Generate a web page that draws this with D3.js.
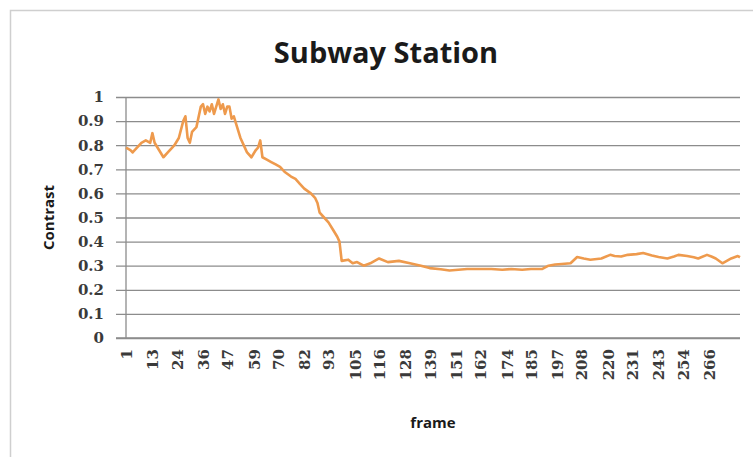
<!DOCTYPE html>
<html>
<head>
<meta charset="utf-8">
<script src="https://cdn.jsdelivr.net/npm/d3@7"></script>
<style>
  html, body { margin: 0; padding: 0; background: #fff; }
  svg { display: block; }
</style>
</head>
<body>
<svg id="chart" width="753" height="457"></svg>
<script>
// Contrast per frame for the subway station sequence
const frames = [
  1, 3, 4, 6, 8, 10, 12, 13, 14, 16, 18, 20, 22, 23, 25, 27, 28, 29, 30, 31,
  33, 35, 36, 37, 38, 39, 40, 41, 43, 44, 45, 46, 47, 48, 49, 50, 51, 53, 55, 56,
  58, 60, 61, 62, 63, 65, 67, 69, 71, 73, 76, 78, 80, 82, 85, 87, 88, 89, 91, 93,
  95, 97, 98, 99, 102, 104, 106, 109, 112, 116, 120, 125, 130, 135, 139, 144, 148, 152, 156, 162,
  167, 172, 176, 181, 185, 190, 193, 196, 199, 203, 206, 209, 212, 217, 221, 223, 226, 229, 233, 236,
  240, 243, 247, 250, 252, 256, 259, 261, 265, 267, 269, 272, 276, 279, 280
];
const contrast = [
  0.79, 0.78, 0.77, 0.79, 0.81, 0.82, 0.81, 0.85, 0.81, 0.78, 0.75, 0.77, 0.79, 0.80, 0.83, 0.90, 0.92, 0.83, 0.81, 0.855,
  0.875, 0.96, 0.97, 0.93, 0.96, 0.94, 0.97, 0.93, 0.99, 0.95, 0.97, 0.93, 0.96, 0.96, 0.91, 0.92, 0.89, 0.83, 0.79, 0.77,
  0.75, 0.78, 0.79, 0.82, 0.75, 0.74, 0.73, 0.72, 0.71, 0.69, 0.67, 0.66, 0.64, 0.62, 0.60, 0.58, 0.56, 0.52, 0.50, 0.48,
  0.45, 0.42, 0.40, 0.32, 0.325, 0.31, 0.315, 0.30, 0.31, 0.33, 0.315, 0.32, 0.31, 0.30, 0.29, 0.285, 0.28, 0.283, 0.286, 0.286,
  0.286, 0.283, 0.286, 0.283, 0.286, 0.286, 0.30, 0.305, 0.307, 0.31, 0.336, 0.33, 0.325, 0.33, 0.345, 0.34, 0.338, 0.345, 0.348, 0.353,
  0.342, 0.336, 0.33, 0.338, 0.345, 0.34, 0.335, 0.33, 0.345, 0.338, 0.33, 0.31, 0.33, 0.34, 0.335
];
const frameTicks = [1, 13, 24, 36, 47, 59, 70, 82, 93, 105, 116, 128, 139, 151, 162, 174, 185, 197, 208, 220, 231, 243, 254, 266];
const contrastTicks = [0, 0.1, 0.2, 0.3, 0.4, 0.5, 0.6, 0.7, 0.8, 0.9, 1];

const svg = d3.select("#chart");

const plot = { left: 126, right: 740, top: 97, bottom: 338 };

const x = d3.scaleLinear().domain([1, 280]).range([plot.left, plot.right]);
const y = d3.scaleLinear().domain([0, 1]).range([plot.bottom, plot.top]);

// chart frame
svg.append("rect")
  .attr("x", 10.5).attr("y", 10.5)
  .attr("width", 800).attr("height", 500)
  .attr("fill", "#fff")
  .attr("stroke", "#cfcfcf")
  .attr("stroke-width", 1.5);

// title
svg.append("text")
  .attr("x", 386).attr("y", 63)
  .attr("text-anchor", "middle")
  .attr("font-family", "'Open Sans', sans-serif")
  .attr("font-weight", 700)
  .attr("font-size", 29)
  .attr("fill", "#1a1a1a")
  .text("Subway Station");

// y axis with horizontal gridlines
const yAxis = d3.axisLeft(y)
  .tickValues(contrastTicks)
  .tickFormat(d3.format("~g"))
  .tickSize(0);

const gy = svg.append("g")
  .attr("transform", `translate(${plot.right},0)`)
  .call(yAxis);
gy.select(".domain").remove();
gy.selectAll(".tick line")
  .attr("x1", -(plot.right - plot.left) - 10)
  .attr("x2", 0)
  .attr("stroke", "#8c8c8c")
  .attr("stroke-width", 1.3);
gy.selectAll(".tick text")
  .attr("x", -(plot.right - plot.left) - 22)
  .attr("font-family", "'DejaVu Serif', serif")
  .attr("font-weight", 700)
  .attr("font-size", 15)
  .attr("fill", "#3a3a3a");

// vertical axis line
svg.append("line")
  .attr("x1", plot.left).attr("x2", plot.left)
  .attr("y1", plot.top).attr("y2", plot.bottom)
  .attr("stroke", "#8c8c8c")
  .attr("stroke-width", 1.3);

// x axis (category labels, rotated)
const xAxis = d3.axisBottom(x)
  .tickValues(frameTicks)
  .tickFormat(d3.format("d"))
  .tickSize(0);

const gx = svg.append("g")
  .attr("transform", `translate(0,${plot.bottom})`)
  .call(xAxis);
gx.select(".domain")
  .attr("stroke", "#8c8c8c")
  .attr("stroke-width", 1.3)
  .attr("d", `M${plot.left - 10},0H${plot.right}`);
gx.selectAll(".tick text")
  .attr("transform", "rotate(-90)")
  .attr("text-anchor", "end")
  .attr("x", -11)
  .attr("y", 0)
  .attr("dy", "0.36em")
  .attr("font-family", "'DejaVu Serif', serif")
  .attr("font-weight", 700)
  .attr("font-size", 15)
  .attr("fill", "#3a3a3a");

// axis titles
svg.append("text")
  .attr("transform", `translate(54,${(plot.top + plot.bottom) / 2}) rotate(-90)`)
  .attr("text-anchor", "middle")
  .attr("font-family", "'Open Sans', sans-serif")
  .attr("font-weight", 700)
  .attr("font-size", 15)
  .attr("fill", "#1a1a1a")
  .text("Contrast");

svg.append("text")
  .attr("x", (plot.left + plot.right) / 2)
  .attr("y", 428)
  .attr("text-anchor", "middle")
  .attr("font-family", "'Open Sans', sans-serif")
  .attr("font-weight", 700)
  .attr("font-size", 15)
  .attr("fill", "#1a1a1a")
  .text("frame");

// contrast line
const line = d3.line()
  .x((d, i) => x(frames[i]))
  .y(d => y(d));

svg.append("path")
  .datum(contrast)
  .attr("fill", "none")
  .attr("stroke", "#EE9A4D")
  .attr("stroke-width", 2.6)
  .attr("stroke-linejoin", "round")
  .attr("d", line);
</script>
</body>
</html>
